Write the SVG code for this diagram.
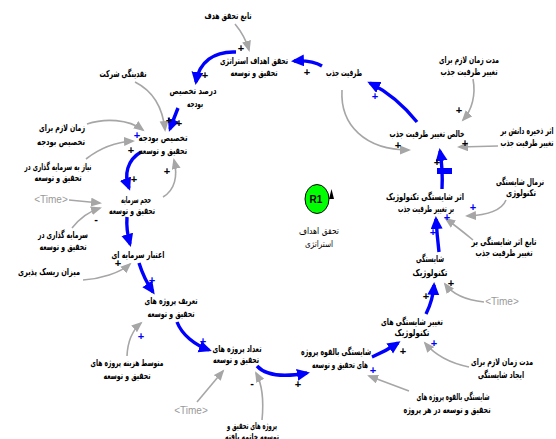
<svg xmlns="http://www.w3.org/2000/svg" width="556" height="439" viewBox="0 0 556 439">
<defs>
<style>
.t{font-family:"DejaVu Sans","Noto Sans",sans-serif;font-size:9.5px;font-weight:bold;fill:#000;text-anchor:middle}
.l{font-family:"DejaVu Sans","Noto Sans",sans-serif;font-size:9px;fill:#000;text-anchor:middle}
.tm{font-family:"Liberation Sans",Arial,sans-serif;font-size:10px;fill:#999;text-anchor:middle}
.s{font-family:"Liberation Sans",Arial,sans-serif;font-size:11px;font-weight:bold;text-anchor:middle}
.sk{fill:#000}
.sb{fill:#0000ff}
.b{fill:none;stroke:#0000ff;stroke-width:3.4;marker-end:url(#ab)}
.g{fill:none;stroke:#a6a6a6;stroke-width:1.6;marker-end:url(#ag)}
</style>
<marker id="ab" markerUnits="userSpaceOnUse" markerWidth="16" markerHeight="14" refX="10" refY="6" orient="auto">
<path d="M0,0 L13,6 L0,12 z" fill="#0000ff"/>
</marker>
<marker id="ag" markerUnits="userSpaceOnUse" markerWidth="14" markerHeight="12" refX="9" refY="4.5" orient="auto">
<path d="M0,0 L11,4.5 L0,9 z" fill="#a6a6a6"/>
</marker>
</defs>
<rect width="556" height="439" fill="#fff"/>

<g id="connectors">
<!-- blue main loop -->
<path class="b" d="M322,66 Q312,60 294,61"/>
<path class="b" d="M236,52 C214,51 199,62 196,82"/>
<path class="b" d="M178,108 Q174,118 170,129"/>
<path class="b" d="M141,152 C127,160 124,175 129,188"/>
<path class="b" d="M127,217 Q126,230 130,244"/>
<path class="b" d="M139,263 Q144,279 153,292"/>
<path class="b" d="M177,322 C182,335 195,345 209,350"/>
<path class="b" d="M257,366 C266,376 285,377 307,373"/>
<path class="b" d="M372,357 Q386,351 398,343"/>
<path class="b" d="M426,314 Q433,300 434,285"/>
<path class="b" d="M439,252 Q437,235 436,219"/>
<path class="b" d="M442,189 Q443,170 440,151"/>
<path class="b" d="M417,122 Q396,96 370,83"/>
<rect x="437" y="168" width="15" height="6" fill="#0000ff"/>
<!-- gray arrows -->
<path class="g" d="M235,24 Q245,36 249,50"/>
<path class="g" d="M135,82 C155,92 163,110 165,130"/>
<path class="g" d="M87,124 C105,118 128,119 143,130"/>
<path class="g" d="M86,159 C100,148 115,142 133,141"/>
<path class="g" d="M163,197 C175,190 178,176 174,160"/>
<path class="g" d="M69,200 L100,203"/>
<path class="g" d="M72,228 Q84,213 100,208"/>
<path class="g" d="M83,280 C100,279 120,273 130,264"/>
<path class="g" d="M127,356 Q128,334 141,323"/>
<path class="g" d="M197,402 L223,371"/>
<path class="g" d="M262,420 C264,400 262,384 256,373"/>
<path class="g" d="M409,391 L369,376"/>
<path class="g" d="M469,367 Q440,361 425,343"/>
<path class="g" d="M484,302 Q456,299 445,284"/>
<path class="g" d="M473,240 Q456,226 446,219"/>
<path class="g" d="M506,200 C502,210 490,215 467,216"/>
<path class="g" d="M342,90 C340,125 365,150 409,150"/>
<path class="g" d="M473,79 C476,95 472,110 463,120"/>
<path class="g" d="M498,146 L459,147"/>
<!-- polarity signs -->
<g class="s sk">
<text x="307" y="76">+</text>
<text x="241" y="52">+</text>
<text x="205" y="79">+</text>
<text x="169" y="124">+</text>
<text x="179" y="127">+</text>
<text x="131" y="154">+</text>
<text x="134" y="183">+</text>
<text x="167" y="175">+</text>
<text x="118" y="267">+</text>
<text x="298" y="388">+</text>
<text x="403" y="355">+</text>
<text x="426" y="300">+</text>
<text x="451" y="287">+</text>
<text x="437" y="166">+</text>
<text x="398" y="149">+</text>
<text x="465" y="147">+</text>
<text x="459" y="114">+</text>
<text x="96" y="223">-</text>
<text x="252" y="387">-</text>
</g>
<g class="s sb">
<text x="137" y="139">+</text>
<text x="152" y="284">+</text>
<text x="203" y="345">+</text>
<text x="141" y="340">+</text>
<text x="373" y="374">+</text>
<text x="434" y="347">+</text>
<text x="433" y="236">+</text>
<text x="447" y="221">+</text>
<text x="473" y="211">+</text>
<text x="375" y="100">+</text>
</g>
</g>

<g id="n-tabe-tahaghogh"><text class="t" x="228" y="19" textLength="47" lengthAdjust="spacingAndGlyphs">تابع تحقق هدف</text></g>
<g id="n-tahaghogh-ahdaf"><text class="t" x="254" y="64" textLength="68" lengthAdjust="spacingAndGlyphs">تحقق اهداف استراتژی</text><text class="t" x="254" y="76" textLength="47" lengthAdjust="spacingAndGlyphs">تحقیق و توسعه</text></g>
<g id="n-zarfiat"><text class="t" x="344" y="76" textLength="36" lengthAdjust="spacingAndGlyphs">ظرفیت جذب</text></g>
<g id="n-darsad"><text class="t" x="193" y="94" textLength="47" lengthAdjust="spacingAndGlyphs">درصد تخصیص</text><text class="t" x="195" y="107" textLength="16" lengthAdjust="spacingAndGlyphs">بودجه</text></g>
<g id="n-naghdinegi"><text class="t" x="123" y="77" textLength="47" lengthAdjust="spacingAndGlyphs">نقدینگی شرکت</text></g>
<g id="n-zaman-takhsis"><text class="t" x="62" y="131" textLength="46" lengthAdjust="spacingAndGlyphs">زمان لازم برای</text><text class="t" x="61" y="145" textLength="48" lengthAdjust="spacingAndGlyphs">تخصیص بودجه</text></g>
<g id="n-takhsis"><text class="t" x="163" y="141" textLength="49" lengthAdjust="spacingAndGlyphs">تخصیص بودجه</text><text class="t" x="163" y="154" textLength="48" lengthAdjust="spacingAndGlyphs">تحقیق و توسعه</text></g>
<g id="n-niaz"><text class="t" x="58" y="170" textLength="67" lengthAdjust="spacingAndGlyphs">نیاز به سرمایه گذاری در</text><text class="t" x="58" y="181" textLength="47" lengthAdjust="spacingAndGlyphs">تحقیق و توسعه</text></g>
<g id="n-time1"><text class="tm" x="51" y="203">&lt;Time&gt;</text></g>
<g id="n-hajm"><text class="t" x="136" y="203" textLength="30" lengthAdjust="spacingAndGlyphs">حجم سرمایه</text><text class="t" x="132" y="214" textLength="46" lengthAdjust="spacingAndGlyphs">تحقیق و توسعه</text></g>
<g id="n-sarmaye-gozari"><text class="t" x="63" y="238" textLength="50" lengthAdjust="spacingAndGlyphs">سرمایه گذاری در</text><text class="t" x="63" y="250" textLength="47" lengthAdjust="spacingAndGlyphs">تحقیق و توسعه</text></g>
<g id="n-etebar"><text class="t" x="138" y="258" textLength="53" lengthAdjust="spacingAndGlyphs">اعتبار سرمایه ای</text></g>
<g id="n-risk"><text class="t" x="49" y="275" textLength="62" lengthAdjust="spacingAndGlyphs">میزان ریسک پذیری</text></g>
<g id="n-tarif"><text class="t" x="171" y="304" textLength="53" lengthAdjust="spacingAndGlyphs">تعریف پروژه های</text><text class="t" x="171" y="317" textLength="47" lengthAdjust="spacingAndGlyphs">تحقیق و توسعه</text></g>
<g id="n-motavaset"><text class="t" x="127" y="366" textLength="73" lengthAdjust="spacingAndGlyphs">متوسط هزینه پروژه های</text><text class="t" x="127" y="379" textLength="47" lengthAdjust="spacingAndGlyphs">تحقیق و توسعه</text></g>
<g id="n-time2"><text class="tm" x="191" y="414">&lt;Time&gt;</text></g>
<g id="n-tedad"><text class="t" x="237" y="352" textLength="49" lengthAdjust="spacingAndGlyphs">تعداد پروژه های</text><text class="t" x="236" y="363" textLength="46" lengthAdjust="spacingAndGlyphs">تحقیق و توسعه</text></g>
<g id="n-khateme"><text class="t" x="252" y="429" textLength="50" lengthAdjust="spacingAndGlyphs">پروژه های تحقیق و</text><text class="t" x="252" y="440" textLength="54" lengthAdjust="spacingAndGlyphs">توسعه خاتمه یافته</text></g>
<g id="n-bilghovve"><text class="t" x="336" y="355" textLength="70" lengthAdjust="spacingAndGlyphs">شایستگی بالقوه پروژه</text><text class="t" x="340" y="368" textLength="56" lengthAdjust="spacingAndGlyphs">های تحقیق و توسعه</text></g>
<g id="n-taghir-shayestegi"><text class="t" x="412" y="325" textLength="62" lengthAdjust="spacingAndGlyphs">تغییر شایستگی های</text><text class="t" x="412" y="336" textLength="35" lengthAdjust="spacingAndGlyphs">تکنولوژیک</text></g>
<g id="n-time3"><text class="tm" x="502" y="305">&lt;Time&gt;</text></g>
<g id="n-modat-ijad"><text class="t" x="502" y="365" textLength="62" lengthAdjust="spacingAndGlyphs">مدت زمان لازم برای</text><text class="t" x="501" y="378" textLength="46" lengthAdjust="spacingAndGlyphs">ایجاد شایستگی</text></g>
<g id="n-har-proje"><text class="t" x="453" y="400" textLength="73" lengthAdjust="spacingAndGlyphs">شایستگی بالقوه پروژه های</text><text class="t" x="447" y="413" textLength="87" lengthAdjust="spacingAndGlyphs">تحقیق و توسعه در هر پروژه</text></g>
<g id="n-shayestegi"><text class="t" x="430" y="262" textLength="28" lengthAdjust="spacingAndGlyphs">شایستگی</text><text class="t" x="430" y="276" textLength="35" lengthAdjust="spacingAndGlyphs">تکنولوژیک</text></g>
<g id="n-asar"><text class="t" x="425" y="200" textLength="78" lengthAdjust="spacingAndGlyphs">اثر شایستگی تکنولوژیک</text><text class="t" x="426" y="212" textLength="56" lengthAdjust="spacingAndGlyphs">بر تغییر ظرفیت جذب</text></g>
<g id="n-normal"><text class="t" x="520" y="185" textLength="48" lengthAdjust="spacingAndGlyphs">نرمال شایستگی</text><text class="t" x="521" y="196" textLength="30" lengthAdjust="spacingAndGlyphs">تکنولوژی</text></g>
<g id="n-tabe-asar"><text class="t" x="504" y="245" textLength="65" lengthAdjust="spacingAndGlyphs">تابع اثر شایستگی بر</text><text class="t" x="504" y="256" textLength="57" lengthAdjust="spacingAndGlyphs">تغییر ظرفیت جذب</text></g>
<g id="n-khales"><text class="t" x="427" y="137" textLength="75" lengthAdjust="spacingAndGlyphs">خالص تغییر ظرفیت جذب</text></g>
<g id="n-zakhire"><text class="t" x="527" y="134" textLength="53" lengthAdjust="spacingAndGlyphs">اثر ذخیره دانش بر</text><text class="t" x="527" y="146" textLength="53" lengthAdjust="spacingAndGlyphs">تغییر ظرفیت جذب</text></g>
<g id="n-modat-zarfiat"><text class="t" x="469" y="63" textLength="60" lengthAdjust="spacingAndGlyphs">مدت زمان لازم برای</text><text class="t" x="469" y="75" textLength="57" lengthAdjust="spacingAndGlyphs">تغییر ظرفیت جذب</text></g>

<g id="loop-r1">
<ellipse cx="317" cy="199" rx="12" ry="14.5" fill="#00ff00" stroke="#000" stroke-width="1"/>
<text x="316" y="203" style="font-family:'Liberation Sans',Arial,sans-serif;font-size:10px;font-weight:bold;text-anchor:middle">R1</text>
<polygon points="331.5,189 334,199 329,199" fill="#000"/>
<text class="l" x="319" y="234" textLength="40" lengthAdjust="spacingAndGlyphs">تحقق اهداف</text>
<text class="l" x="319" y="247" textLength="28" lengthAdjust="spacingAndGlyphs">استراتژی</text>
</g>
</svg>
